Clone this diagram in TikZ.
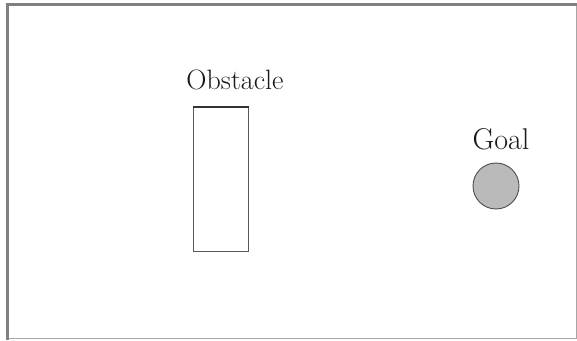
\documentclass[tikz,border=0pt]{standalone}
\begin{document}
\begin{tikzpicture}[x=1pt,y=1pt,
  frameline/.style={draw=black!50},
  lbl/.style={inner sep=0pt,anchor=base,text=black!90},
  obst/.style={draw=black!65,line width=1pt},
  goalc/.style={circle,draw=black!70,fill=black!27,line width=0.9pt,minimum size=46pt,inner sep=0pt}]
\useasboundingbox (0,0) rectangle (577,340);
\fill[white] (0,0) rectangle (577,340);
% frame
\coordinate (tl) at (7,335);
\coordinate (tr) at (576,335);
\coordinate (bl) at (7,2);
\coordinate (br) at (576,2);
\draw[frameline,line width=0.8pt,draw=black!35] (bl) -- (br) -- (tr);
\draw[frameline,line width=3pt,line cap=rect] (bl) -- (tl) -- (tr);
% obstacle
\node[obst,minimum width=55pt,minimum height=144pt,inner sep=0pt] (obs) at (220.5,160.5) {};
\draw[black!80,line width=1.2pt] (obs.north west) -- (obs.north east);
\node[lbl,font=\fontsize{28}{32}\selectfont] (obslbl) at (235,250) {Obstacle};
% goal
\node[goalc] (goal) at (496,154) {};
\node[lbl,font=\fontsize{30}{34}\selectfont] (goallbl) at (501,190) {Goal};
\end{tikzpicture}
\end{document}
